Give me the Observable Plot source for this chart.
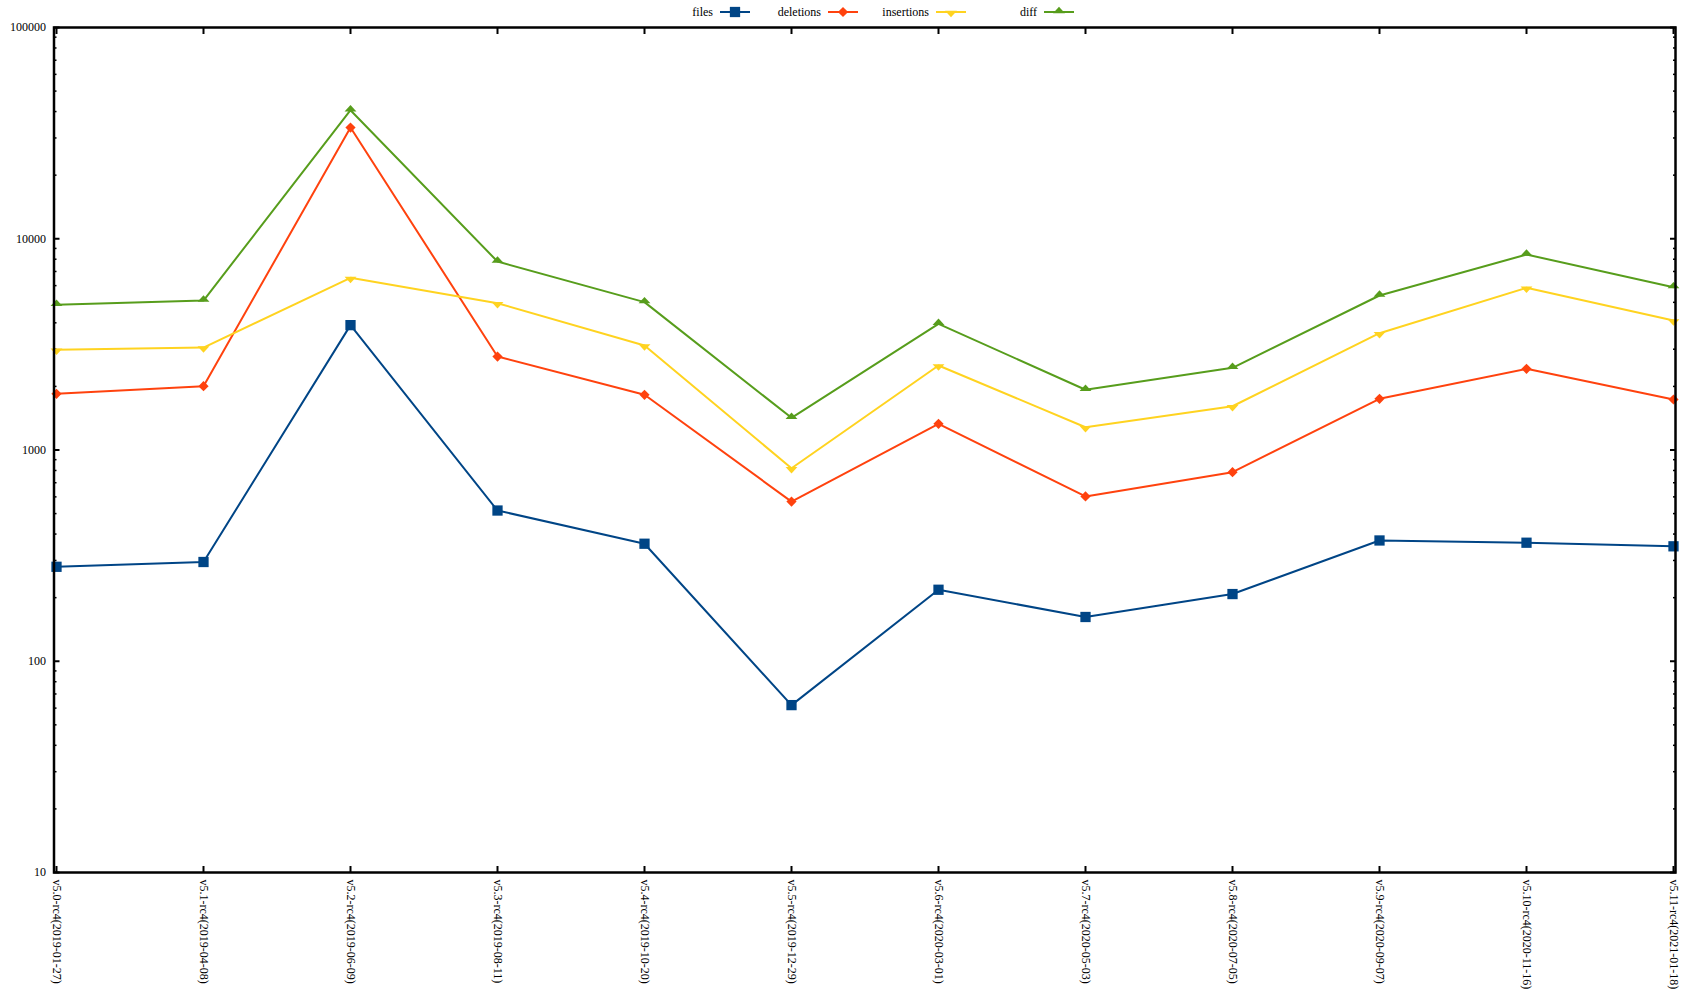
<!DOCTYPE html>
<html><head><meta charset="utf-8">
<script src="https://cdn.jsdelivr.net/npm/d3@7"></script>
<script src="https://cdn.jsdelivr.net/npm/@observablehq/plot@0.6"></script>
<style>
html,body{margin:0;padding:0;background:#fff;width:1687px;height:1002px;overflow:hidden;font-family:"Liberation Serif",serif;}
#legend{position:relative;height:20px;width:1687px;font-size:12px;color:#000;}
.item{position:absolute;top:2px;height:20px;display:flex;align-items:center;}
.item span{display:inline-block;width:71px;text-align:right;margin-right:7px;}
#chart svg{display:block;}
</style></head><body>
<div id="legend"></div><div id="chart"></div>
<script>
const categories = [
  "v5.0-rc4(2019-01-27)","v5.1-rc4(2019-04-08)","v5.2-rc4(2019-06-09)","v5.3-rc4(2019-08-11)",
  "v5.4-rc4(2019-10-20)","v5.5-rc4(2019-12-29)","v5.6-rc4(2020-03-01)","v5.7-rc4(2020-05-03)",
  "v5.8-rc4(2020-07-05)","v5.9-rc4(2020-09-07)","v5.10-rc4(2020-11-16)","v5.11-rc4(2021-01-18)"
];
const files      = [280, 295, 3900, 517, 360, 62, 218, 162, 208, 373, 364, 350];
const deletions  = [1845, 2005, 33600, 2770, 1825, 570, 1330, 603, 785, 1747, 2423, 1734];
const insertions = [2980, 3055, 6530, 4955, 3125, 820, 2512, 1282, 1611, 3573, 5860, 4100];
const diff       = [4866, 5100, 40600, 7800, 5010, 1420, 3957, 1928, 2449, 5388, 8420, 5900];
const seriesNames = ["files", "deletions", "insertions", "diff"];
const seriesValues = [files, deletions, insertions, diff];
const seriesColors = ["#004586", "#ff420e", "#ffd320", "#579d1c"];
const yTickLabels = [10, 100, 1000, 10000, 100000];

// flat triangle marker (LibreOffice style): base through the point, apex above
const flatTriangle = {
  draw(ctx, size) {
    const r = Math.sqrt(size / Math.PI);
    ctx.moveTo(-1.35 * r, 1.2);
    ctx.lineTo(1.35 * r, 1.2);
    ctx.lineTo(0, -1.2 * r);
    ctx.closePath();
  }
};
const markerStyle = {
  files:      {symbol: "square",     r: 5.8, rotate: 0},
  deletions:  {symbol: "diamond2",   r: 4.6, rotate: 0},
  insertions: {symbol: flatTriangle, r: 4.4, rotate: 180},
  diff:       {symbol: flatTriangle, r: 4.4, rotate: 0}
};

// long-form table
const rows = [];
seriesNames.forEach((s, i) => categories.forEach((c, j) => rows.push({series: s, cat: c, value: seriesValues[i][j]})));

const minorTicks = [];
for (const d of [10, 100, 1000, 10000]) for (let k = 2; k <= 9; k++) minorTicks.push(d * k);

// legend
const legend = document.getElementById("legend");
const symMap = {square: d3.symbolSquare, diamond2: d3.symbolDiamond2};
seriesNames.forEach((s, i) => {
  const item = document.createElement("div");
  item.className = "item";
  item.style.left = (642 + i * 108) + "px";
  const span = document.createElement("span");
  span.textContent = s;
  item.appendChild(span);
  const svg = d3.create("svg").attr("width", 30).attr("height", 20);
  svg.append("line").attr("x1", 0).attr("x2", 30).attr("y1", 10).attr("y2", 10)
    .attr("stroke", seriesColors[i]).attr("stroke-width", 2);
  const st = markerStyle[s];
  const type = typeof st.symbol === "string" ? symMap[st.symbol] : st.symbol;
  svg.append("path").attr("d", d3.symbol(type, Math.PI * st.r * st.r)())
    .attr("transform", `translate(15,10) rotate(${st.rotate})`).attr("fill", seriesColors[i]);
  item.appendChild(svg.node());
  legend.appendChild(item);
});

const lineMarks = seriesNames.map((s, i) =>
  Plot.line(rows.filter(d => d.series === s), {x: "cat", y: "value", stroke: seriesColors[i], strokeWidth: 2}));
const dotMarks = seriesNames.map((s, i) =>
  Plot.dot(rows.filter(d => d.series === s), {
    x: "cat", y: "value", fill: seriesColors[i], stroke: "none",
    symbol: markerStyle[s].symbol, r: markerStyle[s].r, rotate: markerStyle[s].rotate
  }));

const blank = () => "";
const chart = Plot.plot({
  width: 1687,
  height: 982,
  marginTop: 7,
  marginBottom: 130,
  marginLeft: 53.5,
  marginRight: 12,
  x: {type: "point", domain: categories, padding: 0},
  y: {type: "log", domain: [10, 100000]},
  style: {fontFamily: "Liberation Serif", fontSize: "12px", background: "white", color: "black"},
  marks: [
    Plot.axisY({anchor: "left", ticks: yTickLabels, tickSize: 0, tickPadding: 8, tickFormat: d => String(d), label: null}),
    Plot.axisY({anchor: "left", ticks: yTickLabels, tickSize: -6, tickFormat: blank, label: null, strokeWidth: 2}),
    Plot.axisY({anchor: "left", ticks: minorTicks, tickSize: -3, tickFormat: blank, label: null, strokeWidth: 1.5}),
    Plot.axisY({anchor: "right", ticks: yTickLabels, tickSize: -6, tickFormat: blank, label: null, strokeWidth: 2}),
    Plot.axisY({anchor: "right", ticks: minorTicks, tickSize: -3, tickFormat: blank, label: null, strokeWidth: 1.5}),
    Plot.axisX({anchor: "bottom", ticks: categories, tickSize: 0, tickPadding: 7, tickRotate: 90, label: null}),
    Plot.axisX({anchor: "bottom", ticks: categories, tickSize: -6, tickFormat: blank, label: null, strokeWidth: 2}),
    Plot.axisX({anchor: "top", ticks: categories, tickSize: -6, tickFormat: blank, label: null, strokeWidth: 2}),
    ...lineMarks,
    ...dotMarks,
    Plot.frame({stroke: "black", strokeWidth: 2.5})
  ]
});
document.getElementById("chart").appendChild(chart);
</script>
</body></html>
